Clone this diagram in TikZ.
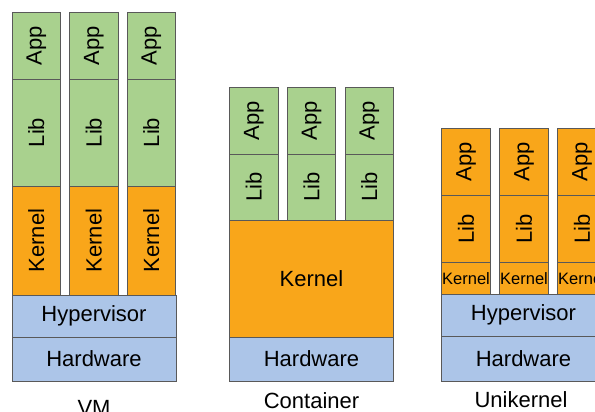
\documentclass[tikz,border=0pt]{standalone}
\usepackage{fontspec}
\setmainfont{Liberation Sans}
\usepackage{tikz}
\usetikzlibrary{positioning}

\definecolor{appgreen}{RGB}{169,209,142}
\definecolor{kernorange}{RGB}{249,166,26}
\definecolor{hwblue}{RGB}{172,197,232}

\begin{document}
\begin{tikzpicture}[x=1pt, y=1pt, node distance=0pt,
    block/.style={rectangle, draw=black!65, line width=0.8pt, inner sep=0pt, outer sep=0pt, font=\fontsize{22}{26}\selectfont},
    appbox/.style={block, fill=appgreen, minimum width=48.5pt},
    kernbox/.style={block, fill=kernorange},
    hwbox/.style={block, fill=hwblue, minimum width=164pt},
    caption/.style={anchor=base, font=\fontsize{22}{26}\selectfont}]

    \useasboundingbox (0,0) rectangle (595,-412);

    % VM stack
    \node[appbox, minimum height=67pt, anchor=north west] (VMApp1) at (12,-12) {\rotatebox{90}{App}};
    \node[appbox, minimum height=67pt, right=9pt of VMApp1] (VMApp2) {\rotatebox{90}{App}};
    \node[appbox, minimum height=67pt, right=9pt of VMApp2] (VMApp3) {\rotatebox{90}{App}};
    \node[appbox, minimum height=107pt, below=of VMApp1] (VMLib1) {\rotatebox{90}{Lib}};
    \node[appbox, minimum height=107pt, below=of VMApp2] (VMLib2) {\rotatebox{90}{Lib}};
    \node[appbox, minimum height=107pt, below=of VMApp3] (VMLib3) {\rotatebox{90}{Lib}};
    \node[kernbox, minimum width=48.5pt, minimum height=109pt, below=of VMLib1] (VMKernel1) {\rotatebox{90}{Kernel}};
    \node[kernbox, minimum width=48.5pt, minimum height=109pt, below=of VMLib2] (VMKernel2) {\rotatebox{90}{Kernel}};
    \node[kernbox, minimum width=48.5pt, minimum height=109pt, below=of VMLib3] (VMKernel3) {\rotatebox{90}{Kernel}};
    \node[hwbox, minimum height=42pt, anchor=north west] (VMHyper) at (VMKernel1.south west) {Hypervisor};
    \node[hwbox, minimum height=44pt, below=of VMHyper] (VMHard) {Hardware};
    \node[caption] (VMLabel) at (94,-415) {VM};

    % Container stack
    \node[appbox, minimum height=66.5pt, anchor=north west] (CtApp1) at (229.5,-87.5) {\rotatebox{90}{App}};
    \node[appbox, minimum height=66.5pt, right=9.25pt of CtApp1] (CtApp2) {\rotatebox{90}{App}};
    \node[appbox, minimum height=66.5pt, right=9.25pt of CtApp2] (CtApp3) {\rotatebox{90}{App}};
    \node[appbox, minimum height=66.5pt, below=of CtApp1] (CtLib1) {\rotatebox{90}{Lib}};
    \node[appbox, minimum height=66.5pt, below=of CtApp2] (CtLib2) {\rotatebox{90}{Lib}};
    \node[appbox, minimum height=66.5pt, below=of CtApp3] (CtLib3) {\rotatebox{90}{Lib}};
    \node[kernbox, minimum width=164pt, minimum height=116.5pt, anchor=north west] (CtKernel) at (CtLib1.south west) {Kernel};
    \node[hwbox, minimum height=44pt, below=of CtKernel] (CtHard) {Hardware};
    \node[caption] (CtLabel) at (311.5,-408.3) {Container};

    % Unikernel stack
    \node[kernbox, minimum width=49pt, minimum height=67pt, anchor=north west] (UkApp1) at (441.5,-128.5) {\rotatebox{90}{App}};
    \node[kernbox, minimum width=49pt, minimum height=67pt, right=9pt of UkApp1] (UkApp2) {\rotatebox{90}{App}};
    \node[kernbox, minimum width=49pt, minimum height=67pt, right=9pt of UkApp2] (UkApp3) {\rotatebox{90}{App}};
    \node[kernbox, minimum width=49pt, minimum height=67pt, below=of UkApp1] (UkLib1) {\rotatebox{90}{Lib}};
    \node[kernbox, minimum width=49pt, minimum height=67pt, below=of UkApp2] (UkLib2) {\rotatebox{90}{Lib}};
    \node[kernbox, minimum width=49pt, minimum height=67pt, below=of UkApp3] (UkLib3) {\rotatebox{90}{Lib}};
    \node[kernbox, minimum width=49pt, minimum height=32pt, font=\fontsize{16.5}{18}\selectfont, below=of UkLib1] (UkKernel1) {Kernel};
    \node[kernbox, minimum width=49pt, minimum height=32pt, font=\fontsize{16.5}{18}\selectfont, below=of UkLib2] (UkKernel2) {Kernel};
    \node[kernbox, minimum width=49pt, minimum height=32pt, font=\fontsize{16.5}{18}\selectfont, below=of UkLib3] (UkKernel3) {Kernel};
    \node[hwbox, minimum height=41.5pt, anchor=north west] (UkHyper) at (UkKernel1.south west) {Hypervisor};
    \node[hwbox, minimum height=45pt, below=of UkHyper] (UkHard) {Hardware};
    \node[caption] (UkLabel) at (521,-407.5) {Unikernel};
\end{tikzpicture}
\end{document}
